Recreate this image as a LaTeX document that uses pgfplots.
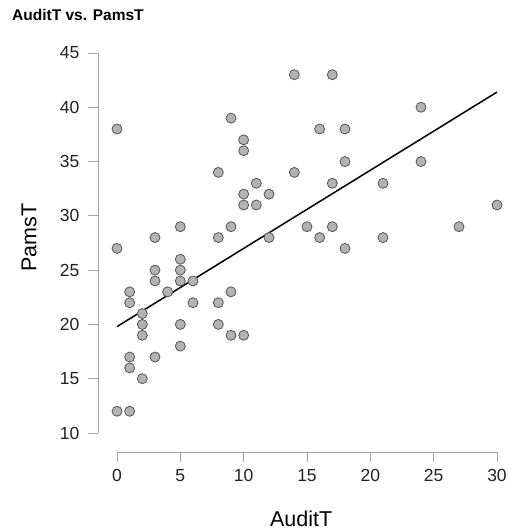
\documentclass[border=0pt]{standalone}
\usepackage{fontspec}
\setmainfont{Liberation Sans}
\usepackage{pgfplots}
\pgfplotsset{compat=1.18}
\definecolor{axgray}{HTML}{A6A6A6}
\definecolor{ptfill}{HTML}{B3B3B3}
\definecolor{ptedge}{HTML}{555555}
\definecolor{lbl}{HTML}{222222}
\begin{document}
\begin{tikzpicture}
\begin{axis}[
  name=ax,
  scale only axis,
  width=399pt, height=399pt,
  xmin=-1.5, xmax=30, ymin=8.25, ymax=45,
  axis x line*=bottom, axis y line*=left,
  axis line style={draw=none},
  xtick={0,5,10,15,20,25,30},
  ytick={10,15,20,25,30,35,40,45},
  tick align=outside,
  major tick length=10pt,
  tick style={color=axgray, line width=0.9pt},
  /pgf/number format/assume math mode=true,
  ticklabel style={font=\fontsize{17.5}{20}\selectfont, text=lbl},
  xticklabel style={yshift=-4pt},
  yticklabel style={xshift=-5pt},
  every axis x label/.style={at={(rel axis cs:0.509,0)}, anchor=base, yshift=-74pt, font=\fontsize{21.5}{24}\selectfont},
  every axis y label/.style={at={(rel axis cs:0,0.538)}, xshift=-69pt, anchor=center, rotate=90, font=\fontsize{21.5}{24}\selectfont},
  xlabel={AuditT}, ylabel={PamsT},
  clip=false,
]
\draw[axgray, line width=0.9pt] (axis cs:0,8.25) -- (axis cs:30,8.25);
\draw[axgray, line width=0.9pt] (axis cs:-1.5,10) -- (axis cs:-1.5,45);
\addplot[only marks, mark=*, mark size=5pt, mark options={fill=ptfill, draw=ptedge, line width=0.8pt}] coordinates {
(0,38) (0,27) (0,12)
(1,12) (1,17) (1,16) (1,23) (1,22)
(2,21) (2,20) (2,19) (2,15)
(3,28) (3,25) (3,24) (3,17)
(4,23)
(5,29) (5,26) (5,25) (5,24) (5,20) (5,18)
(6,24) (6,22)
(8,34) (8,28) (8,22) (8,20)
(9,39) (9,29) (9,23) (9,19)
(10,37) (10,36) (10,32) (10,31) (10,19)
(11,33) (11,31)
(12,32) (12,28)
(14,43) (14,34)
(15,29)
(16,38) (16,28)
(17,43) (17,33) (17,29)
(18,38) (18,35) (18,27)
(21,33) (21,28)
(24,40) (24,35)
(27,29)
(30,31)
};
\addplot[black, line width=1.5pt] coordinates {(0,19.8) (30,41.4)};
\end{axis}
\node[anchor=base west, inner sep=0pt, font=\bfseries\fontsize{15.5}{18}\selectfont] at ([xshift=-86pt, yshift=431pt]ax.south west) {AuditT vs. PamsT};
\pgfresetboundingbox
\path ([xshift=-98pt, yshift=-78pt]ax.south west) rectangle ++(510pt,530pt);
\end{tikzpicture}
\end{document}
